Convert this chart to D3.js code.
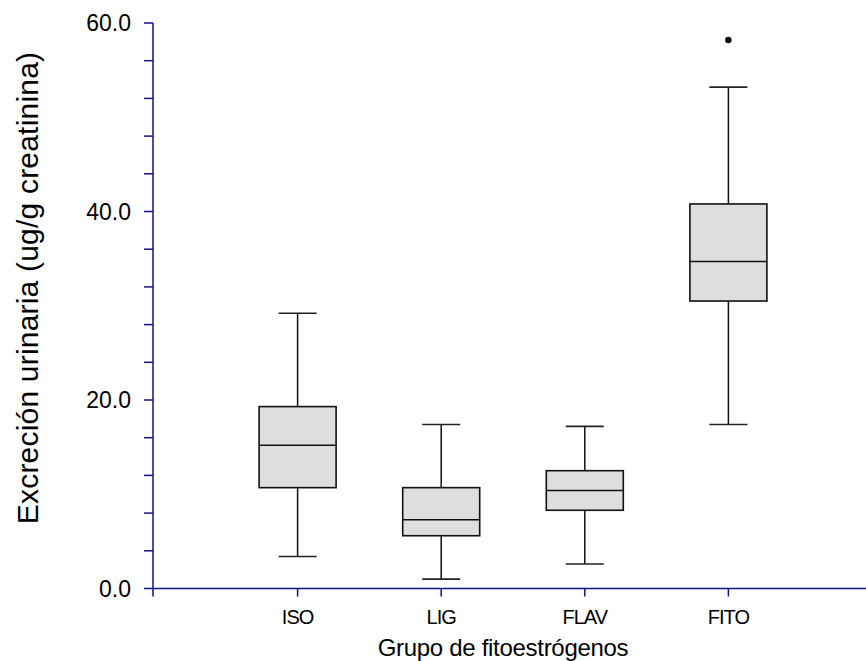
<!DOCTYPE html>
<html>
<head>
<meta charset="utf-8">
<script src="https://cdn.jsdelivr.net/npm/d3@7"></script>
<style>
  body { margin: 0; background: #fff; }
  text { font-family: Arial, "Liberation Sans", sans-serif; fill: #000; }
</style>
</head>
<body>
<div id="chart"></div>
<script>
// values
const groups = ['ISO', 'LIG', 'FLAV', 'FITO'];
const whiskerLow = [3.4, 1.0, 2.6, 17.4];
const q1 = [10.7, 5.6, 8.3, 30.5];
const median = [15.2, 7.3, 10.4, 34.7];
const q3 = [19.3, 10.7, 12.5, 40.8];
const whiskerHigh = [29.2, 17.4, 17.2, 53.2];
const outliers = [[], [], [], [58.2]];
const yLabelTicks = [0, 20, 40, 60];

const width = 866, height = 661;
const axisColor = '#12128a';

const svg = d3.select('#chart').append('svg')
    .attr('width', width)
    .attr('height', height);

const y = d3.scaleLinear().domain([0, 60]).range([588.5, 23]);
const x = d3.scaleLinear().domain([0, 5]).range([154, 154 + 5 * 143.6]);

const boxW = 77, capW = 38;

// y axis
const yAxis = svg.append('g').attr('transform', 'translate(153,0)');
yAxis.append('line')
    .attr('y1', y(0)).attr('y2', y(60))
    .attr('stroke', axisColor).attr('stroke-width', 1.5);
yAxis.selectAll('.minor')
    .data(d3.range(0, 61, 4))
    .join('line')
    .attr('x1', -9).attr('x2', 0)
    .attr('y1', d => y(d)).attr('y2', d => y(d))
    .attr('stroke', axisColor).attr('stroke-width', 1.5);
yAxis.selectAll('.lab')
    .data(yLabelTicks)
    .join('text')
    .attr('x', -22)
    .attr('y', d => y(d))
    .attr('dy', '0.36em')
    .attr('text-anchor', 'end')
    .attr('font-size', 23)
    .text(d => d3.format('.1f')(d));

// x axis
const xAxis = svg.append('g').attr('transform', 'translate(0,' + y(0) + ')');
xAxis.append('line')
    .attr('x1', 153).attr('x2', width)
    .attr('stroke', axisColor).attr('stroke-width', 1.5);
xAxis.append('line')
    .attr('x1', 153).attr('x2', 153).attr('y1', 0).attr('y2', 8)
    .attr('stroke', axisColor).attr('stroke-width', 1.5);
xAxis.selectAll('.tick')
    .data(groups)
    .join('line')
    .attr('x1', (d, i) => x(i + 1)).attr('x2', (d, i) => x(i + 1))
    .attr('y1', 0).attr('y2', 8)
    .attr('stroke', axisColor).attr('stroke-width', 1.5);
xAxis.selectAll('.lab')
    .data(groups)
    .join('text')
    .attr('x', (d, i) => x(i + 1))
    .attr('y', 35)
    .attr('text-anchor', 'middle')
    .attr('font-size', 20)
    .attr('letter-spacing', -1)
    .text(d => d);

// boxes
groups.forEach((g, i) => {
    const cx = x(i + 1);
    const grp = svg.append('g');
    grp.append('line')
        .attr('x1', cx).attr('x2', cx)
        .attr('y1', y(whiskerLow[i])).attr('y2', y(q1[i]))
        .attr('stroke', '#111').attr('stroke-width', 1.5);
    grp.append('line')
        .attr('x1', cx).attr('x2', cx)
        .attr('y1', y(q3[i])).attr('y2', y(whiskerHigh[i]))
        .attr('stroke', '#111').attr('stroke-width', 1.5);
    [whiskerLow[i], whiskerHigh[i]].forEach(v => {
        grp.append('line')
            .attr('x1', cx - capW / 2).attr('x2', cx + capW / 2)
            .attr('y1', y(v)).attr('y2', y(v))
            .attr('stroke', '#222').attr('stroke-width', 1.6);
    });
    grp.append('rect')
        .attr('x', cx - boxW / 2)
        .attr('y', y(q3[i]))
        .attr('width', boxW)
        .attr('height', y(q1[i]) - y(q3[i]))
        .attr('fill', '#dedede')
        .attr('stroke', '#111').attr('stroke-width', 1.6);
    grp.append('line')
        .attr('x1', cx - boxW / 2).attr('x2', cx + boxW / 2)
        .attr('y1', y(median[i])).attr('y2', y(median[i]))
        .attr('stroke', '#111').attr('stroke-width', 1.6);
    grp.selectAll('circle')
        .data(outliers[i])
        .join('circle')
        .attr('cx', cx).attr('cy', d => y(d))
        .attr('r', 3.2).attr('fill', '#000');
});

// titles
svg.append('text')
    .attr('x', 503).attr('y', 656)
    .attr('text-anchor', 'middle')
    .attr('font-size', 24)
    .attr('letter-spacing', -0.3)
    .text('Grupo de fitoestrógenos');

svg.append('text')
    .attr('transform', 'translate(38,288) rotate(-90)')
    .attr('text-anchor', 'middle')
    .attr('font-size', 30)
    .attr('letter-spacing', 0.2)
    .text('Excreción urinaria (ug/g creatinina)');
</script>
</body>
</html>
